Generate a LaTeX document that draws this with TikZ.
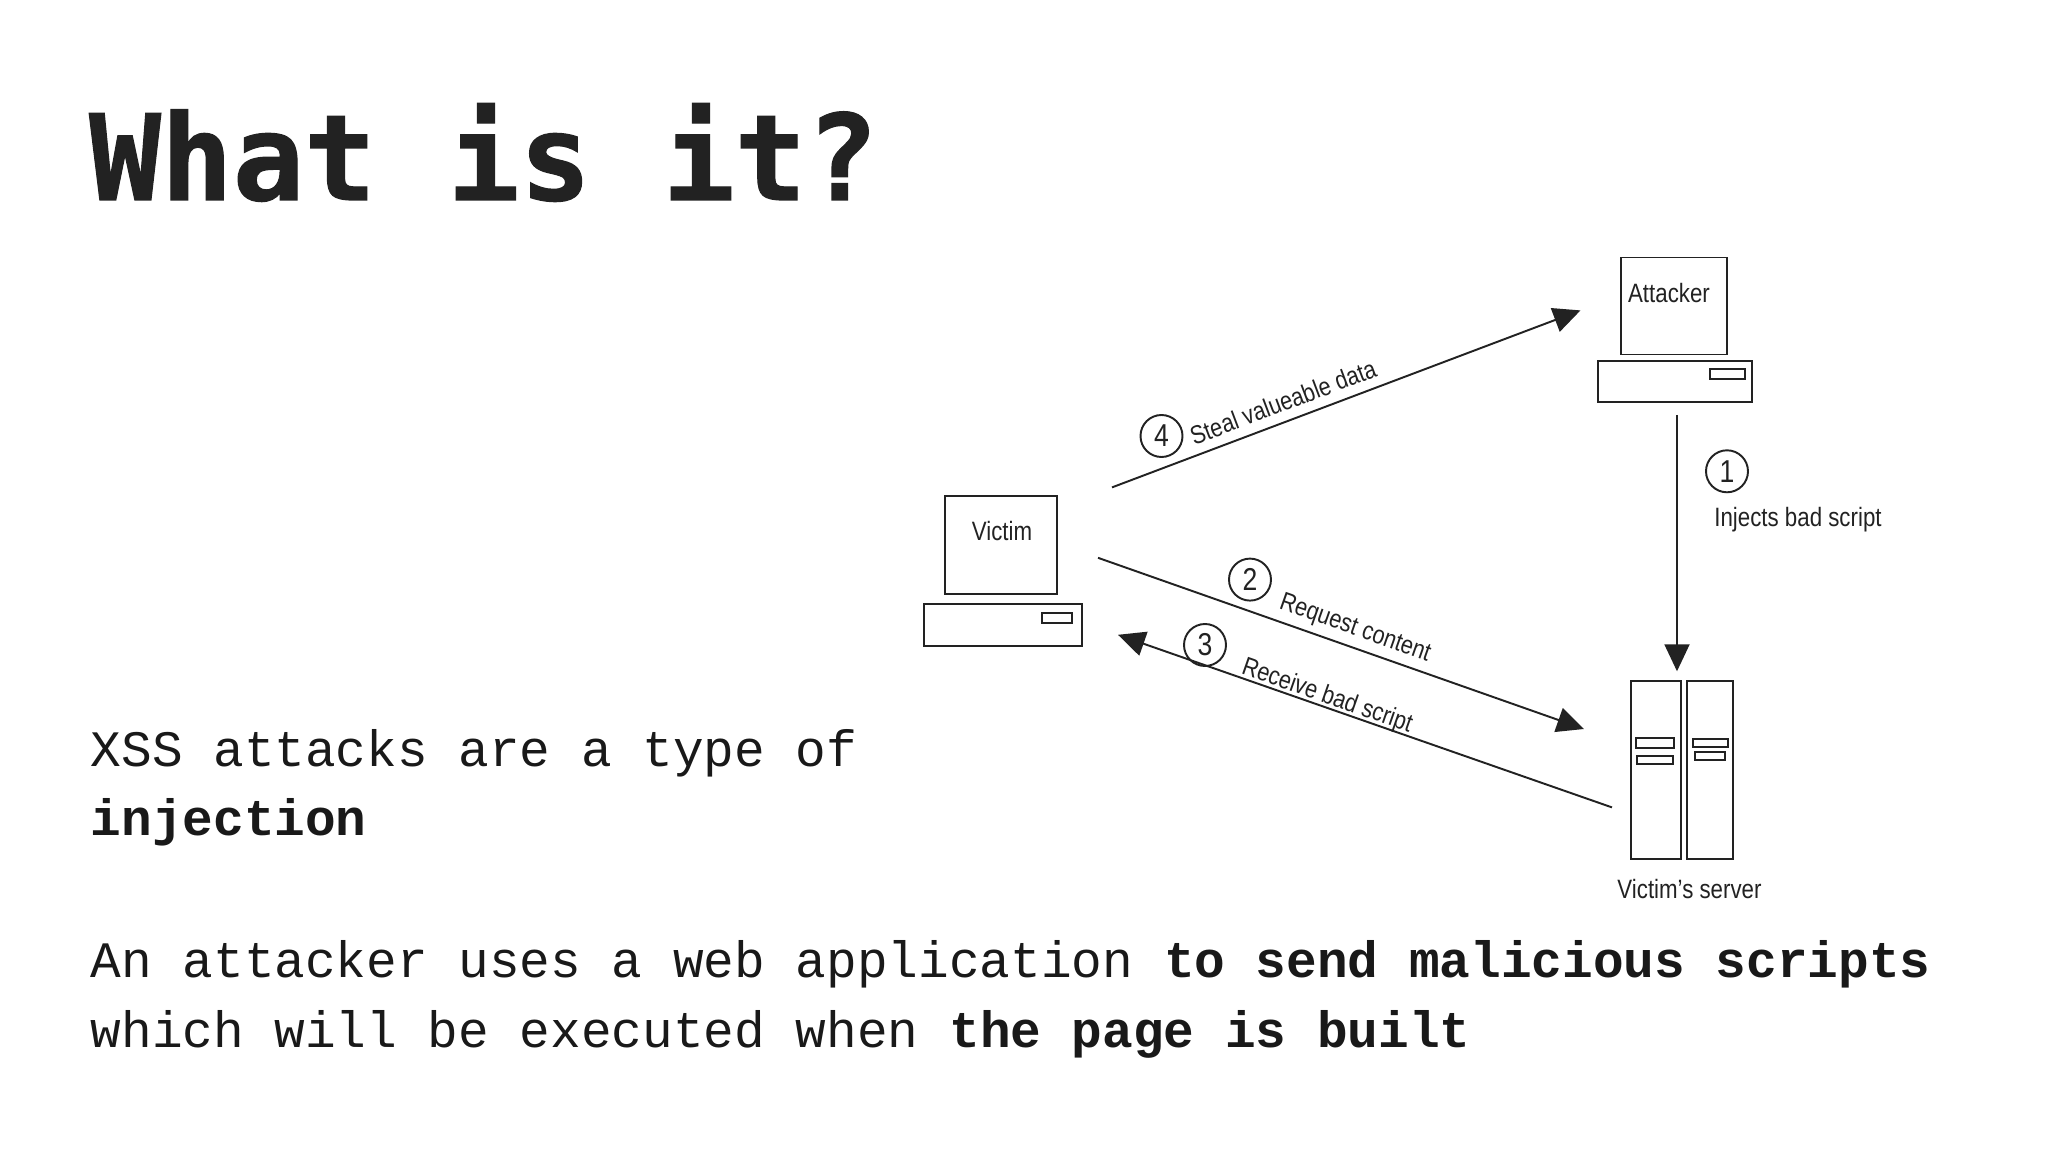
\documentclass[tikz,border=0pt]{standalone}
\usepackage{fontspec}
\usetikzlibrary{arrows.meta}
\setmonofont{Liberation Mono}
\newfontfamily\titlefont[FakeBold=1]{DejaVu Sans Mono Bold}
\newfontfamily\diagfont[FakeStretch=0.84]{Liberation Sans}
\definecolor{inkdark}{HTML}{222222}
\tikzset{
	screenbox/.style={draw=inkdark, line width=0.55pt, inner sep=0pt},
	numbered/.style={draw=inkdark, circle, line width=0.55pt, inner sep=0pt, minimum size=0.42cm, font=\diagfont\fontsize{9}{10}\selectfont, text=inkdark},
	diaglabel/.style={font=\diagfont\fontsize{7.55}{9}\selectfont, text=inkdark, inner sep=0pt},
	slantlabel/.style={diaglabel, font=\diagfont\fontsize{7.35}{9}\selectfont},
	bodytext/.style={anchor=base west, inner sep=0pt, align=left, font=\ttfamily\fontsize{14.54}{19.9}\selectfont, text=black!90},
	flow/.style={draw=inkdark, line width=0.55pt, -{Triangle[length=0.27cm, width=0.25cm]}}
}
\begin{document}
\begin{tikzpicture}[y=-1cm]
	\useasboundingbox (0,0) rectangle (20.48,11.52);

	\node[anchor=base west, inner sep=0pt, text=inkdark, font=\titlefont\fontsize{33.9}{40}\selectfont] (title) at (0.885,2.00) {What is it?};
	\node[bodytext] (intro) at (0.90,8.36) {XSS attacks are a type of\\\textbf{injection}};
	\node[bodytext] (detail) at (0.90,10.47) {An attacker uses a web application \textbf{to send malicious scripts}\\which will be executed when \textbf{the page is built}};

	\node[screenbox, minimum width=1.06cm, minimum height=0.97cm] (atkscreen) at (16.74,3.06) {};
	\node[screenbox, minimum width=1.54cm, minimum height=0.41cm] (atkbase) at (16.75,3.815) {};
	\node[screenbox, minimum width=0.35cm, minimum height=0.10cm] (atkbutton) at (17.275,3.74) {};
	\node[diaglabel] (atklabel) at (16.69,2.93) {Attacker};

	\node[screenbox, minimum width=1.125cm, minimum height=0.986cm] (vicscreen) at (10.01,5.45) {};
	\node[screenbox, minimum width=1.58cm, minimum height=0.415cm] (vicbase) at (10.03,6.25) {};
	\node[screenbox, minimum width=0.30cm, minimum height=0.105cm] (vicbutton) at (10.57,6.18) {};
	\node[diaglabel] (viclabel) at (10.02,5.31) {Victim};

	\node[screenbox, minimum width=0.505cm, minimum height=1.783cm] (srvleft) at (16.56,7.70) {};
	\node[screenbox, minimum width=0.465cm, minimum height=1.783cm] (srvright) at (17.10,7.70) {};
	\node[screenbox, minimum width=0.38cm, minimum height=0.097cm] (slotlefta) at (16.55,7.43) {};
	\node[screenbox, minimum width=0.36cm, minimum height=0.085cm] (slotleftb) at (16.55,7.60) {};
	\node[screenbox, minimum width=0.35cm, minimum height=0.074cm] (slotrighta) at (17.105,7.43) {};
	\node[screenbox, minimum width=0.30cm, minimum height=0.077cm] (slotrightb) at (17.10,7.56) {};
	\node[diaglabel] (srvlabel) at (16.895,8.89) {Victim’s server};

	\coordinate (atkdown) at (16.77,4.15);
	\coordinate (srvtop) at (16.77,6.713);
	\coordinate (vicout) at (11.12,4.874);
	\coordinate (atkin) at (15.805,3.104);
	\coordinate (vicreq) at (10.98,5.578);
	\coordinate (srvin) at (15.84,7.29);
	\coordinate (srvout) at (16.12,8.074);
	\coordinate (vicin) at (11.18,6.348);

	\draw[flow] (atkdown) -- (srvtop);
	\draw[flow] (vicreq) -- (srvin);
	\draw[flow] (srvout) -- (vicin);
	\draw[flow] (vicout) -- (atkin);

	\node[numbered] (stepone) at (17.27,4.713) {1};
	\node[numbered] (steptwo) at (12.50,5.796) {2};
	\node[numbered] (stepthree) at (12.05,6.45) {3};
	\node[numbered] (stepfour) at (11.615,4.36) {4};

	\node[diaglabel] (injects) at (17.98,5.196) {Injects bad script};
	\node[slantlabel, rotate=-19.4] (request) at (13.55,6.29) {Request content};
	\node[slantlabel, rotate=-19.3] (receive) at (13.27,6.965) {Receive bad script};
	\node[slantlabel, rotate=20.7] (steal) at (12.83,4.02) {Steal valueable data};
\end{tikzpicture}
\end{document}
